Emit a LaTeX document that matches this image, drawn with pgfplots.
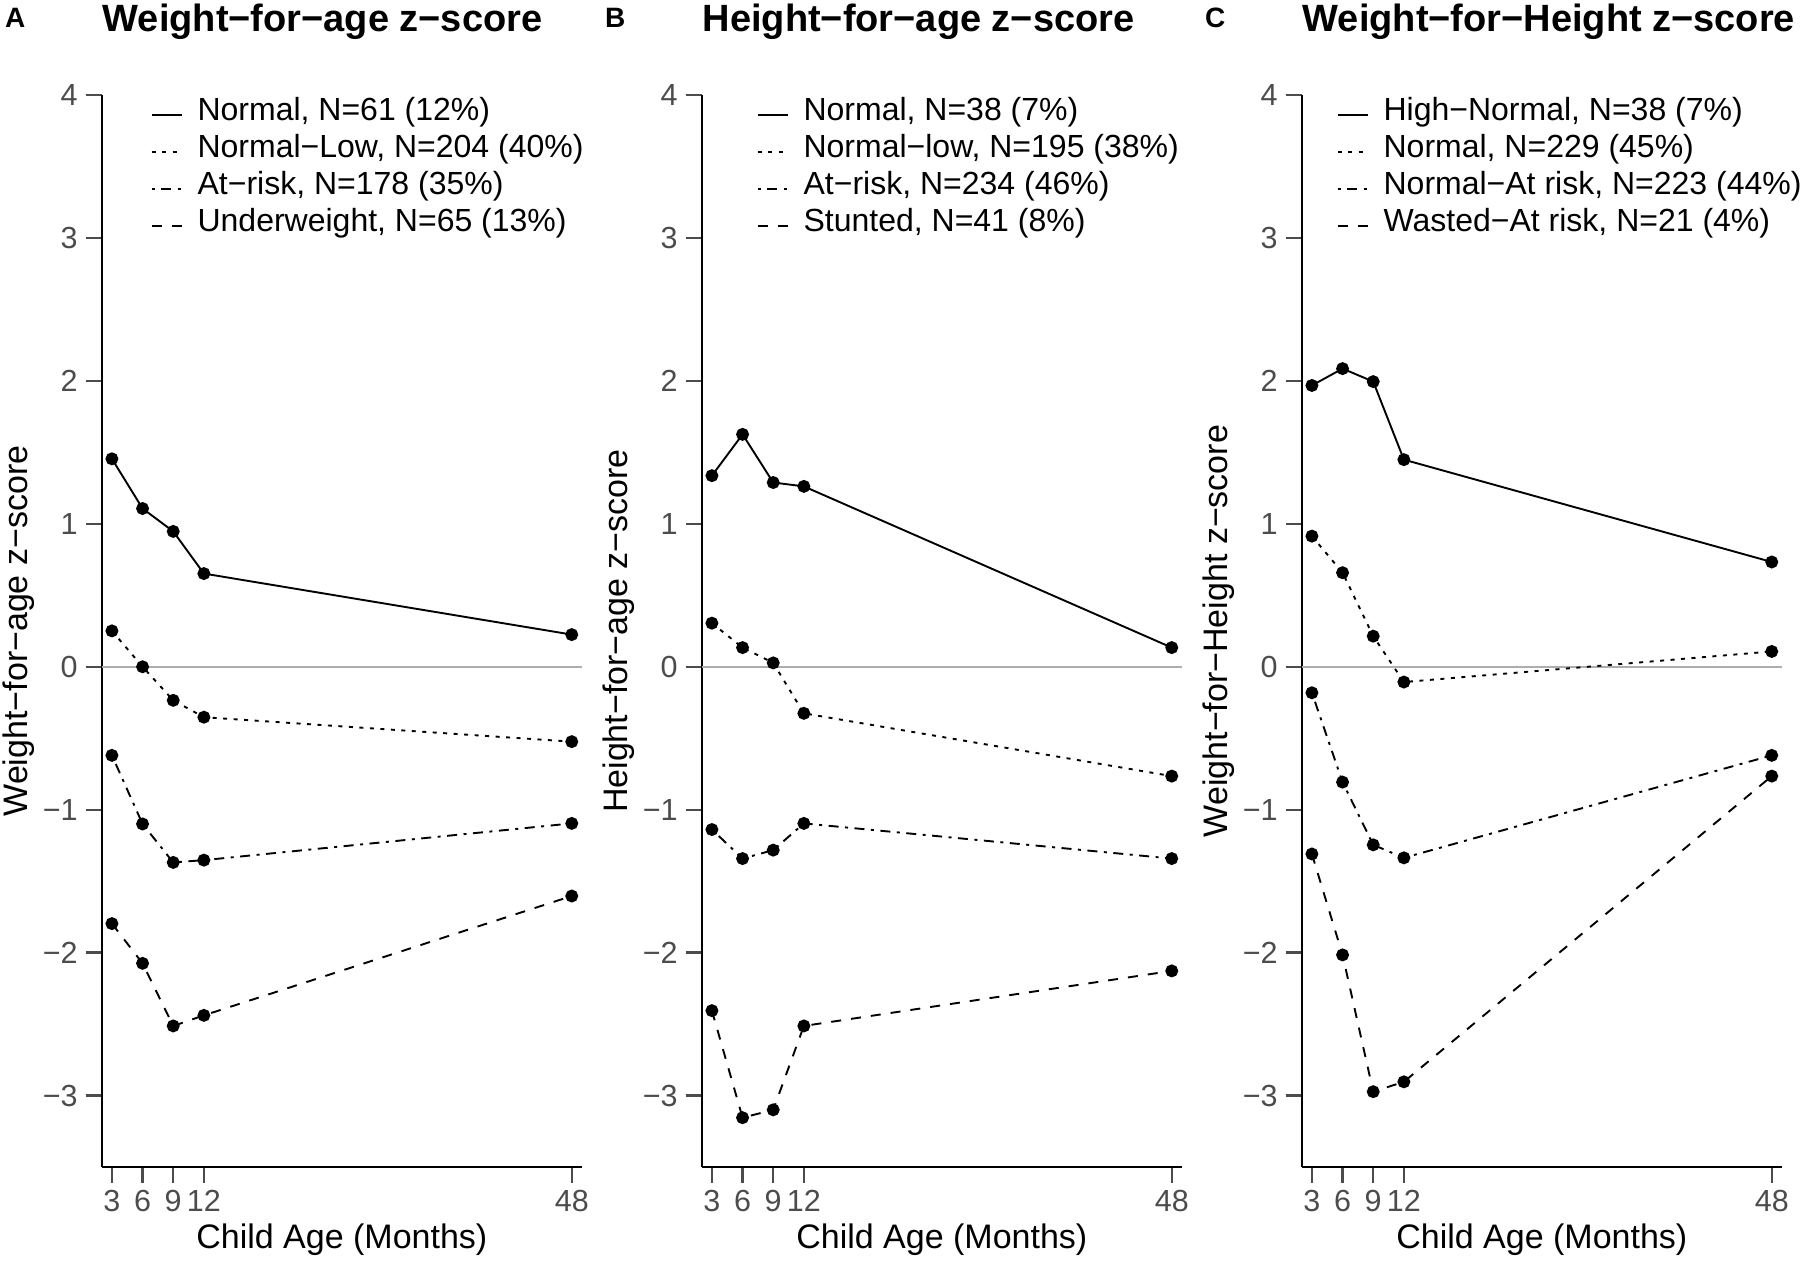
\documentclass[border=0pt]{standalone}
\usepackage{pgfplots}
\usepackage{pgfplotstable}
\pgfplotsset{compat=1.18}
\usepackage{fontspec}
\setmainfont{Liberation Sans}
\definecolor{tickgray}{gray}{0.3}
\definecolor{zerogray}{gray}{0.68}

\pgfplotstableread{
x n nl ar uw
3 1.455 0.251 -0.620 -1.797
6 1.107 0.000 -1.100 -2.075
9 0.947 -0.235 -1.369 -2.513
12 0.652 -0.353 -1.353 -2.439
48 0.225 -0.524 -1.096 -1.604
}\tA
\pgfplotstableread{
x n nl ar st
3 1.337 0.305 -1.139 -2.406
6 1.626 0.134 -1.342 -3.155
9 1.289 0.027 -1.283 -3.100
12 1.262 -0.326 -1.096 -2.513
48 0.134 -0.765 -1.342 -2.128
}\tB
\pgfplotstableread{
x hn n nar war
3 1.968 0.914 -0.182 -1.310
6 2.086 0.658 -0.807 -2.016
9 1.995 0.214 -1.246 -2.973
12 1.449 -0.107 -1.337 -2.904
48 0.733 0.107 -0.620 -0.765
}\tC

\pgfplotsset{
  panel/.style={
    scale only axis, width=96.06pt, height=214.4pt, anchor=south west,
    xmin=2, xmax=49, ymin=-3.5, ymax=4,
    axis x line*=bottom, axis y line*=left,
    axis line style={line width=0.45pt, black},
    tick align=outside, major tick length=3.2pt,
    every tick/.style={tickgray, line width=0.45pt},
    xtick={3,6,9,12,48}, xticklabels={3,6,9,12,48},
    ytick={-3,-2,-1,0,1,2,3,4}, yticklabels={−3,−2,−1,0,1,2,3,4},
    tick label style={font=\fontsize{6.1}{7}\selectfont, text=tickgray},
    xticklabel style={inner sep=1.2pt},
    yticklabel style={inner sep=1.4pt},
    label style={font=\fontsize{6.8}{8}\selectfont},
    xlabel={Child Age (Months)},
    xlabel style={at={(axis description cs:0.5,-0.07556)}, anchor=base},
    ylabel style={at={(axis description cs:-0.1555,0.5)}, anchor=base},
    clip=false,
    legend cell align=left,
    legend image code/.code={\draw[##1] (0pt,0pt) -- (6pt,0pt);},
    legend style={draw=none, fill=none, anchor=north west,
      font=\fontsize{6.4}{7}\selectfont, inner sep=0pt, outer sep=0pt,
      row sep=0pt, nodes={inner sep=0pt, text height=4.8pt, text depth=2.6pt},
      /tikz/every odd column/.append style={column sep=3pt}},
  },
  s1/.style={black, line width=0.38pt, solid, mark=*, mark size=1.1pt, mark options={solid}},
  s2/.style={black, line width=0.38pt, dash pattern=on 0.8pt off 1.3pt, mark=*, mark size=1.1pt, mark options={solid}},
  s3/.style={black, line width=0.38pt, dash pattern=on 0.6pt off 1.3pt on 2pt off 1.3pt, mark=*, mark size=1.1pt, mark options={solid}},
  s4/.style={black, line width=0.38pt, dash pattern=on 2pt off 2pt, mark=*, mark size=1.1pt, mark options={solid}},
  zl/.style={zerogray, line width=0.35pt, forget plot},
}

\begin{document}
\begin{tikzpicture}
\path[use as bounding box] (0,0) rectangle (360pt,252.6pt);

% Panel A
\begin{axis}[panel, at={(20.34pt,19.2pt)},
  ylabel={Weight−for−age z−score},
  legend style={at={(0.102,0.9986)}}]
\addplot[zl] coordinates {(2,0) (49,0)};
\addplot[s1] table[x=x,y=n] {\tA};
\addlegendentry{Normal, N=61 (12\%)}
\addplot[s2] table[x=x,y=nl] {\tA};
\addlegendentry{Normal−Low, N=204 (40\%)}
\addplot[s3] table[x=x,y=ar] {\tA};
\addlegendentry{At−risk, N=178 (35\%)}
\addplot[s4] table[x=x,y=uw] {\tA};
\addlegendentry{Underweight, N=65 (13\%)}
\node[anchor=base west, inner sep=0pt, font=\bfseries\fontsize{7.6}{9}\selectfont] at (axis description cs:0,1.0597) {Weight−for−age z−score};
\node[anchor=base west, inner sep=0pt, font=\bfseries\fontsize{5.6}{7}\selectfont] at (axis description cs:-0.2034,1.0634) {A};
\end{axis}

% Panel B
\begin{axis}[panel, at={(140.34pt,19.2pt)},
  ylabel={Height−for−age z−score},
  legend style={at={(0.1145,0.9986)}}]
\addplot[zl] coordinates {(2,0) (49,0)};
\addplot[s1] table[x=x,y=n] {\tB};
\addlegendentry{Normal, N=38 (7\%)}
\addplot[s2] table[x=x,y=nl] {\tB};
\addlegendentry{Normal−low, N=195 (38\%)}
\addplot[s3] table[x=x,y=ar] {\tB};
\addlegendentry{At−risk, N=234 (46\%)}
\addplot[s4] table[x=x,y=st] {\tB};
\addlegendentry{Stunted, N=41 (8\%)}
\node[anchor=base west, inner sep=0pt, font=\bfseries\fontsize{7.6}{9}\selectfont] at (axis description cs:0,1.0597) {Height−for−age z−score};
\node[anchor=base west, inner sep=0pt, font=\bfseries\fontsize{5.6}{7}\selectfont] at (axis description cs:-0.2034,1.0634) {B};
\end{axis}

% Panel C
\begin{axis}[panel, at={(260.34pt,19.2pt)},
  ylabel={Weight−for−Height z−score},
  legend style={at={(0.0729,0.9986)}}]
\addplot[zl] coordinates {(2,0) (49,0)};
\addplot[s1] table[x=x,y=hn] {\tC};
\addlegendentry{High−Normal, N=38 (7\%)}
\addplot[s2] table[x=x,y=n] {\tC};
\addlegendentry{Normal, N=229 (45\%)}
\addplot[s3] table[x=x,y=nar] {\tC};
\addlegendentry{Normal−At risk, N=223 (44\%)}
\addplot[s4] table[x=x,y=war] {\tC};
\addlegendentry{Wasted−At risk, N=21 (4\%)}
\node[anchor=base west, inner sep=0pt, font=\bfseries\fontsize{7.6}{9}\selectfont] at (axis description cs:0,1.0597) {Weight−for−Height z−score};
\node[anchor=base west, inner sep=0pt, font=\bfseries\fontsize{5.6}{7}\selectfont] at (axis description cs:-0.2034,1.0634) {C};
\end{axis}
\end{tikzpicture}
\end{document}
